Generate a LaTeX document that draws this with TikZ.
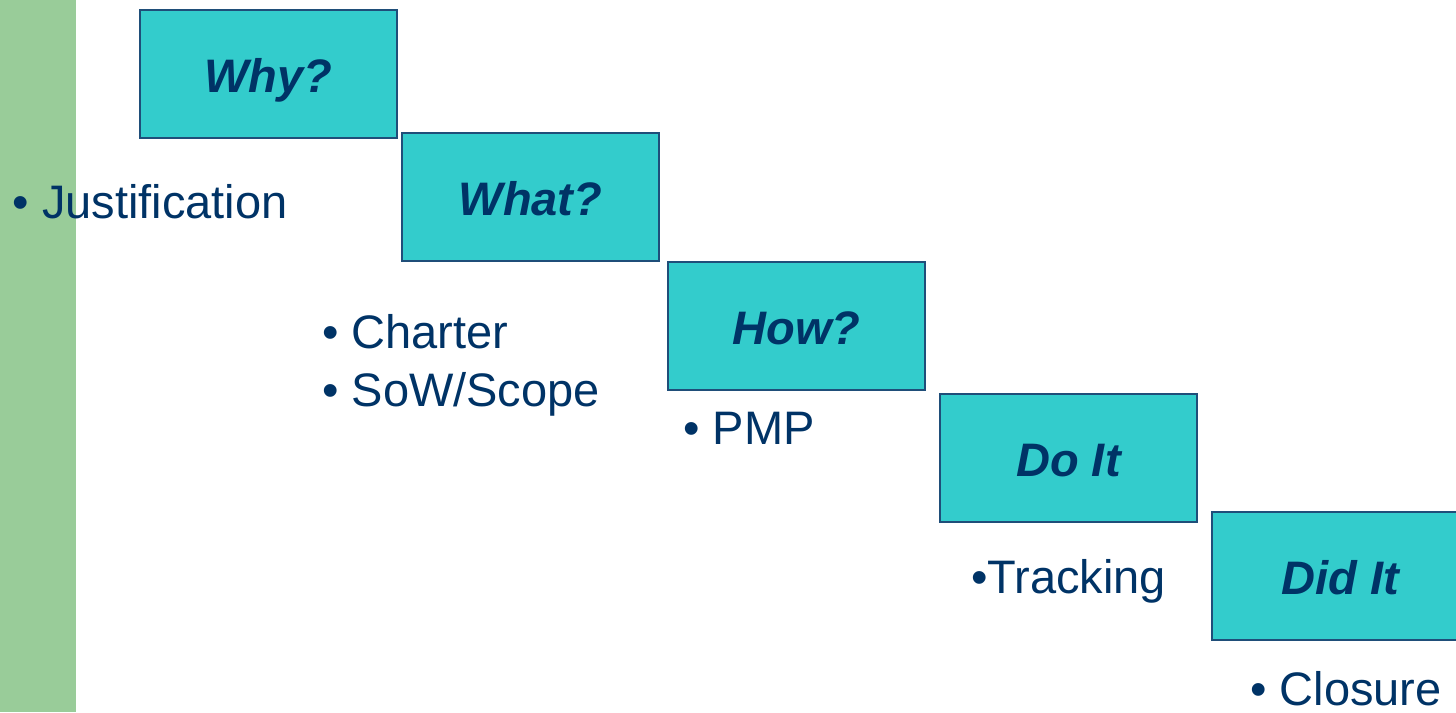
\documentclass[tikz,border=0pt]{standalone}
\usepackage{fontspec}
\setmainfont{Liberation Sans}
\definecolor{barGreen}{HTML}{99CC99}
\definecolor{boxFill}{HTML}{33CCCC}
\definecolor{boxLine}{HTML}{1F4E79}
\definecolor{navy}{HTML}{003366}
\begin{document}
\begin{tikzpicture}[x=1pt,y=-1pt,
  phase/.style={draw=boxLine, line width=1.8pt, fill=boxFill, minimum width=257pt,
    minimum height=128pt, inner sep=0pt, text=navy, text height=37pt, text depth=0pt,
    font=\fontsize{47}{52}\selectfont\bfseries\itshape},
  item/.style={anchor=base west, inner sep=0pt, text=navy,
    font=\fontsize{47}{56}\selectfont}]
  \useasboundingbox (0,0) rectangle (1456,712);
  \clip (0,0) rectangle (1456,712);
  % side band
  \fill[barGreen] (0,0) rectangle (76,712);
  % staircase of phases
  \node[phase] (why)  at (268.5,74)  {Why?};
  \node[phase] (what) at (530.5,197) {What?};
  \node[phase] (how)  at (796.5,326) {How?};
  \node[phase] (doit) at (1068.5,458) {Do It};
  \node[phase] (didit) at (1340.5,576) {Did It};
  % deliverables under each phase
  \node[item] (just) at (12.5,218) {• Justification};
  \node[item] (charter) at (322,348) {• Charter};
  \node[item] (sow) at (322,406) {• SoW/Scope};
  \node[item] (pmp) at (683,444) {• PMP};
  \node[item] (track) at (971,593) {•Tracking};
  \node[item] (close) at (1250,705) {• Closure};
\end{tikzpicture}
\end{document}
